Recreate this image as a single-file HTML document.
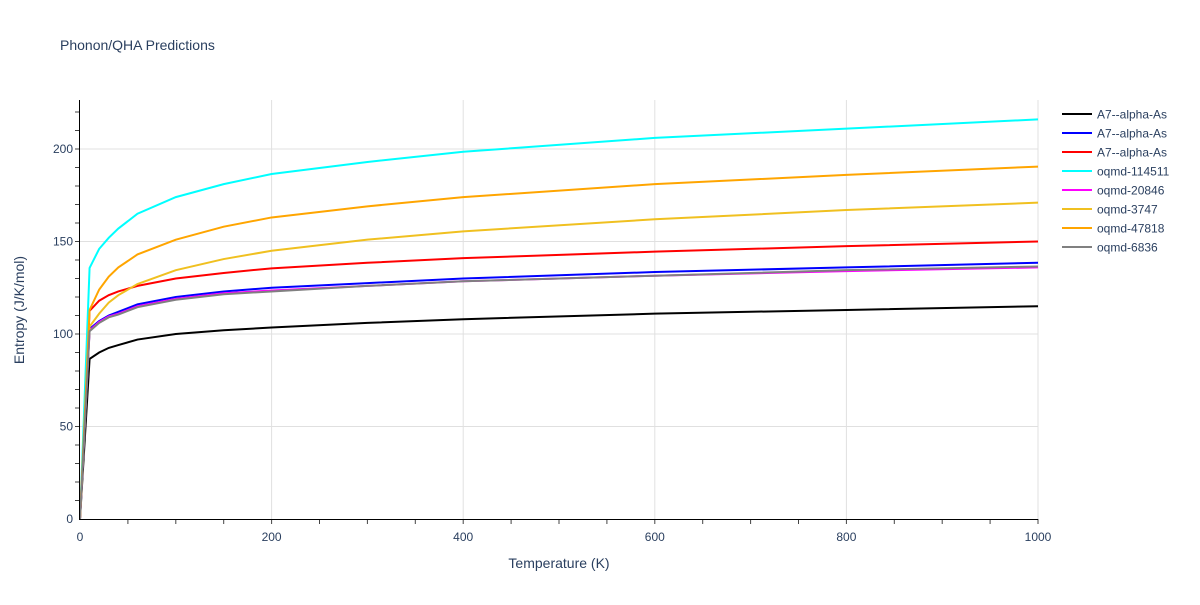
<!DOCTYPE html>
<html><head><meta charset="utf-8"><style>
body{margin:0;background:#fff;font-family:"Liberation Sans",sans-serif;}
svg text{font-family:"Liberation Sans",sans-serif;fill:#2a3f5f;}
</style></head><body>
<svg id="chart" width="1200" height="600">
<text x="60" y="50" font-size="14">Phonon/QHA Predictions</text>
<g id="grid"></g><g id="series"></g><g id="axes"></g><g id="legend"></g>
<text x="559" y="568" font-size="14" text-anchor="middle">Temperature (K)</text>
<text x="24" y="310" font-size="14" text-anchor="middle" transform="rotate(-90 24 310)">Entropy (J/K/mol)</text>
</svg>
<script>
const temps=[0,10,20,30,40,60,100,150,200,300,400,600,800,1000];
const sBlack=[0,86.5,90,92.5,94,97,100,102,103.5,106,108,111,113,115];
const sBlue=[0,102.7,107,110,112,116,120,123,125,127.5,130,133.5,136,138.5];
const sRed=[0,112.5,118,121,123,126,130,133,135.5,138.5,141,144.5,147.5,150];
const sCyan=[0,135.7,146,152,157,165,174,181,186.5,193,198.5,206,211,216];
const sMagenta=[0,102,106.5,109.5,111,115,119,122,123.5,126,128.5,131.5,134,136];
const sGold=[0,104,111,117,121,127,134.5,140.5,145,151,155.5,162,167,171];
const sOrange=[0,113,124,131,136,143,151,158,163,169,174,181,186,190.5];
const sGray=[0,101.5,106,109,110.5,114.5,118.5,121.5,123,126,128.5,131.5,134.5,136.5];
const names=["A7--alpha-As","A7--alpha-As","A7--alpha-As","oqmd-114511","oqmd-20846","oqmd-3747","oqmd-47818","oqmd-6836"];
const colors=["#000000","#0000ff","#ff0000","#00ffff","#ff00ff","#f0c020","#ffa500","#808080"];
const allSeries=[sBlack,sBlue,sRed,sCyan,sMagenta,sGold,sOrange,sGray];
const xTicks=[0,200,400,600,800,1000];
const yTicks=[0,50,100,150,200];
const NS="http://www.w3.org/2000/svg";
const X=t=>80+t*(1038-80)/1000;
const Y=v=>519-v*(519-149)/200;
function mk(tag,attrs,parent){const e=document.createElementNS(NS,tag);for(const k in attrs)e.setAttribute(k,attrs[k]);parent.appendChild(e);return e;}
const grid=document.getElementById('grid'),axes=document.getElementById('axes'),ser=document.getElementById('series'),leg=document.getElementById('legend');
xTicks.forEach(t=>{if(t>0){const l=mk('line',{x1:X(t),x2:X(t),y1:100,y2:519,stroke:'#e0e0e0'},grid);

}
const tx=mk('text',{x:X(t),y:541,'font-size':12,'text-anchor':'middle'},axes);tx.textContent=t;

});
for(let t=50;t<=1000;t+=50){mk('line',{x1:X(t),x2:X(t),y1:519,y2:524,stroke:'#444'},axes);}
yTicks.forEach(v=>{if(v>0){const l=mk('line',{x1:80,x2:1038,y1:Y(v),y2:Y(v),stroke:'#e0e0e0'},grid);

}
const tx=mk('text',{x:73,y:Y(v)+4,'font-size':12,'text-anchor':'end'},axes);tx.textContent=v;

});
for(let v=10;v<=220;v+=10){mk('line',{x1:75,x2:80,y1:Y(v),y2:Y(v),stroke:'#444'},axes);}
const ya=mk('line',{x1:79.5,x2:79.5,y1:100,y2:520,stroke:'#000'},axes);


const xa=mk('line',{x1:79,x2:1038,y1:519.5,y2:519.5,stroke:'#000'},axes);


allSeries.forEach((s,i)=>{
const p=mk('polyline',{points:s.map((v,j)=>X(temps[j])+','+Y(v)).join(' '),fill:'none',stroke:colors[i],'stroke-width':2},ser);


const y=114+i*19;
const g=mk('g',{},leg);


mk('line',{x1:1062,x2:1092,y1:y,y2:y,stroke:colors[i],'stroke-width':2},g);
const t=mk('text',{x:1097,y:y+4.5,'font-size':12},g);t.textContent=names[i];
});
</script>
</body></html>
